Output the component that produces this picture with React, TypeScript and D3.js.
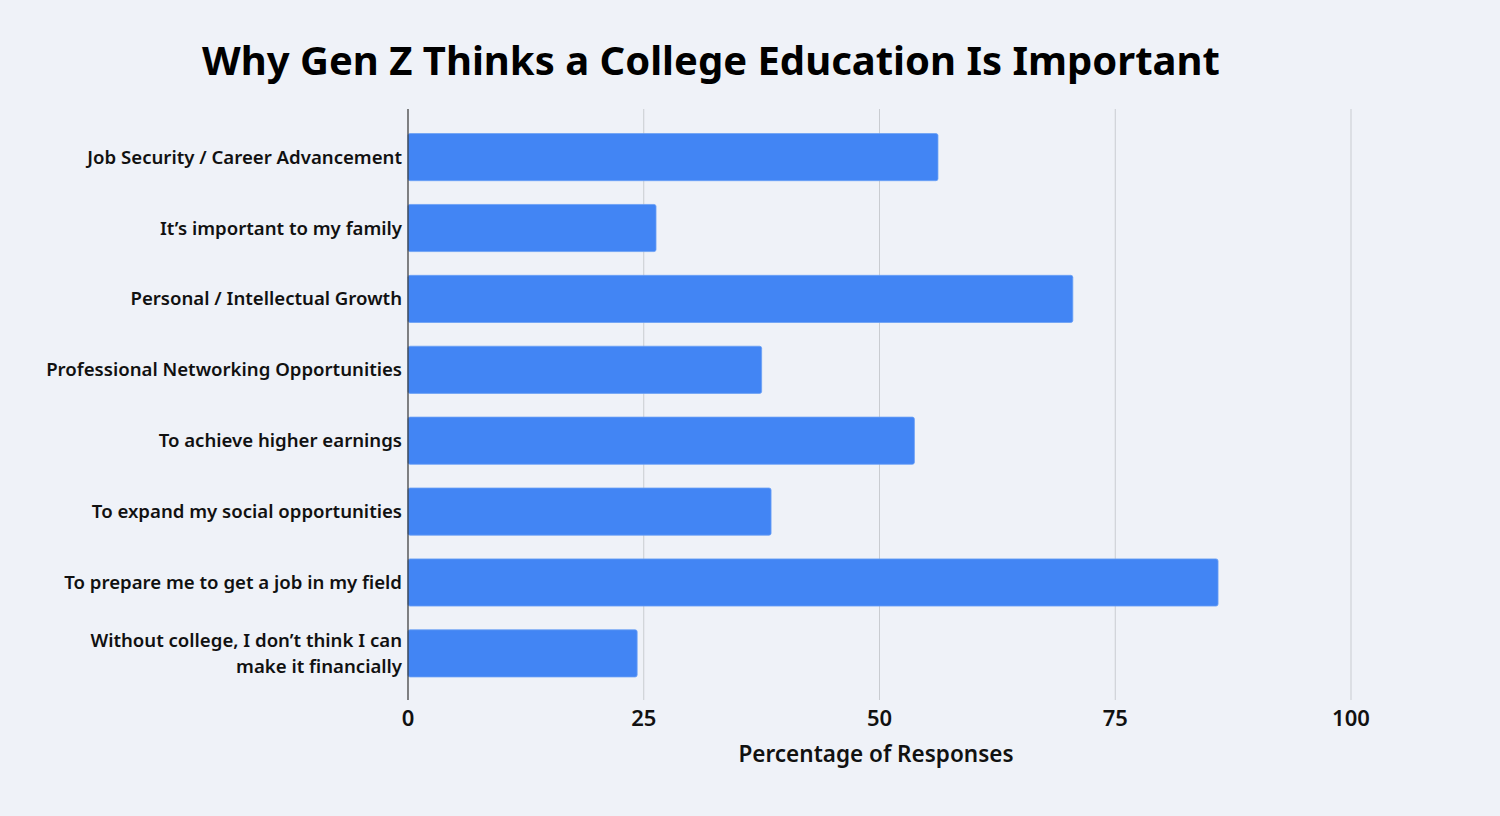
import React, { useRef, useEffect } from 'react';
import * as d3 from 'd3';

const title = 'Why Gen Z Thinks a College Education Is Important';
const xAxisTitle = 'Percentage of Responses';

const categories = [
  'Job Security / Career Advancement',
  'It’s important to my family',
  'Personal / Intellectual Growth',
  'Professional Networking Opportunities',
  'To achieve higher earnings',
  'To expand my social opportunities',
  'To prepare me to get a job in my field',
  'Without college, I don’t think I can\nmake it financially',
];

const values = [56.2, 26.3, 70.5, 37.5, 53.7, 38.5, 85.9, 24.3];

const xTicks = [0, 25, 50, 75, 100];

const WIDTH = 1500;
const HEIGHT = 816;
const FONT = '"Noto Sans", "Open Sans", sans-serif';

const App: React.FC = () => {
  const svgRef = useRef<SVGSVGElement | null>(null);

  useEffect(() => {
    if (!svgRef.current) return;
    const svg = d3.select(svgRef.current);
    svg.selectAll('*').remove();

    const left = 408;
    const right = 1351;
    const top = 109;
    const bottom = 700;

    const x = d3.scaleLinear().domain([0, 100]).range([left, right]);
    const y = d3
      .scaleBand<string>()
      .domain(categories)
      .range([121.5, 689])
      .paddingInner(0.335)
      .paddingOuter(0.17);

    svg.append('rect').attr('width', WIDTH).attr('height', HEIGHT).attr('fill', '#eff2f8');

    // title
    svg
      .append('text')
      .attr('x', 711)
      .attr('y', 75)
      .attr('text-anchor', 'middle')
      .attr('font-family', FONT)
      .attr('font-weight', 700)
      .attr('font-size', 40)
      .attr('fill', '#000')
      .text(title);

    // gridlines
    svg
      .append('g')
      .selectAll('line')
      .data(xTicks.filter((t) => t !== 0))
      .join('line')
      .attr('x1', (d) => x(d))
      .attr('x2', (d) => x(d))
      .attr('y1', top)
      .attr('y2', bottom)
      .attr('stroke', '#c9ccd1')
      .attr('stroke-width', 1);

    // bars
    svg
      .append('g')
      .selectAll('rect')
      .data(values)
      .join('rect')
      .attr('x', x(0))
      .attr('y', (_, i) => y(categories[i]) as number)
      .attr('width', (d) => x(d) - x(0))
      .attr('height', y.bandwidth())
      .attr('rx', 2)
      .attr('fill', '#4285f4')
      .attr('stroke', '#6a9ff5')
      .attr('stroke-width', 0.8);

    // zero axis line
    svg
      .append('line')
      .attr('x1', x(0))
      .attr('x2', x(0))
      .attr('y1', top)
      .attr('y2', bottom)
      .attr('stroke', '#333')
      .attr('stroke-width', 1.2);

    // category labels
    const labels = svg
      .append('g')
      .selectAll('text')
      .data(categories)
      .join('text')
      .attr('text-anchor', 'end')
      .attr('font-family', FONT)
      .attr('font-weight', 600)
      .attr('font-size', 18.6)
      .attr('fill', '#111');

    labels.each(function (d) {
      const lines = d.split('\n');
      const cy = (y(d) as number) + y.bandwidth() / 2;
      const lh = 26;
      const t = d3.select(this);
      lines.forEach((line, j) => {
        t.append('tspan')
          .attr('x', x(0) - 6)
          .attr('y', cy + (j - (lines.length - 1) / 2) * lh)
          .attr('dy', '0.35em')
          .text(line);
      });
    });

    // tick labels
    svg
      .append('g')
      .selectAll('text')
      .data(xTicks)
      .join('text')
      .attr('x', (d) => x(d))
      .attr('y', 726)
      .attr('text-anchor', 'middle')
      .attr('font-family', FONT)
      .attr('font-weight', 600)
      .attr('font-size', 22)
      .attr('fill', '#111')
      .text((d) => d);

    // axis title
    svg
      .append('text')
      .attr('x', 876)
      .attr('y', 762)
      .attr('text-anchor', 'middle')
      .attr('font-family', FONT)
      .attr('font-weight', 600)
      .attr('font-size', 22.5)
      .attr('fill', '#111')
      .text(xAxisTitle);
  }, []);

  return (
    <svg
      ref={svgRef}
      width={WIDTH}
      height={HEIGHT}
      style={{ display: 'block', position: 'absolute', left: 0, top: 0 }}
    />
  );
};

export default App;
